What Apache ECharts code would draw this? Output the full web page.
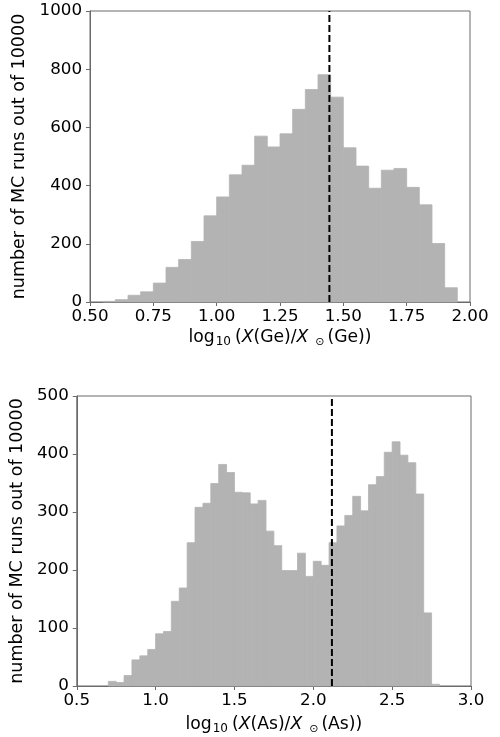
<!DOCTYPE html>
<html>
<head>
<meta charset="utf-8">
<script src="https://cdn.jsdelivr.net/npm/echarts@6/dist/echarts.min.js"></script>
<style>
html,body{margin:0;padding:0;background:#fff;}
#chart{width:500px;height:737px;}
</style>
</head>
<body>
<div id="chart"></div>
<script>
// ---- Data ----
const geBinLeft = [0.55,0.60,0.65,0.70,0.75,0.80,0.85,0.90,0.95,1.00,1.05,1.10,1.15,1.20,1.25,1.30,1.35,1.40,1.45,1.50,1.55,1.60,1.65,1.70,1.75,1.80,1.85,1.90];
const geCounts  = [2,8,23,35,65,119,146,208,296,361,437,470,570,533,578,662,730,781,704,530,467,391,453,459,394,334,201,49];
const geBinWidth = 0.05;
const geMarker = 1.445;
const geXTicks = [0.50,0.75,1.00,1.25,1.50,1.75,2.00];
const geYTicks = [0,200,400,600,800,1000];

const asBinLeft = [0.70,0.75,0.80,0.85,0.90,0.95,1.00,1.05,1.10,1.15,1.20,1.25,1.30,1.35,1.40,1.45,1.50,1.55,1.60,1.65,1.70,1.75,1.80,1.85,1.90,1.95,2.00,2.05,2.10,2.15,2.20,2.25,2.30,2.35,2.40,2.45,2.50,2.55,2.60,2.65,2.70,2.75];
const asCounts  = [8,6,18,45,52,63,90,94,146,169,247,308,315,349,382,368,334,333,314,320,267,242,199,199,229,189,215,208,247,276,294,327,302,347,361,403,421,398,385,331,126,3];
const asBinWidth = 0.05;
const asMarker = 2.118;
const asXTicks = [0.5,1.0,1.5,2.0,2.5,3.0];
const asYTicks = [0,100,200,300,400,500];

const yLabel = 'number of MC runs out of 10000';

// ---- Chart ----
const FONT = 'DejaVu Sans';
const FS = 16.7;
const SPINE = '#6a6a6a';
const BAR = '#b3b3b3';

function histData(lefts, counts, w){
  return lefts.map((l,i)=>[l, counts[i], l + w]);
}
function renderHist(params, api){
  const p0 = api.coord([api.value(0), api.value(1)]);
  const p1 = api.coord([api.value(2), 0]);
  return {
    type:'rect',
    shape:{x:p0[0], y:p0[1], width:p1[0]-p0[0], height:p1[1]-p0[1]},
    style:{fill:BAR, stroke:BAR, lineWidth:0.8}
  };
}
function xName(el){
  return '{n|log}{s|10}{n|(}{i|X}{n|(' + el + ')/}{i|X}{o|⊙}{n|(' + el + '))}';
}
const nameRich = {
  n:{fontFamily:FONT,fontSize:17.2,color:'#000'},
  i:{fontFamily:FONT,fontSize:17.2,fontStyle:'italic',color:'#000'},
  s:{fontFamily:FONT,fontSize:12,color:'#000',verticalAlign:'bottom',padding:[8,4,0,1]},
  o:{fontFamily:FONT,fontSize:11,color:'#000',verticalAlign:'bottom',padding:[8,3,0,7]}
};

function xAxis(idx, ticks, dec, el, gap){
  return {
    type:'value', gridIndex:idx,
    min:ticks[0], max:ticks[ticks.length-1], interval:ticks[1]-ticks[0],
    name:xName(el), nameLocation:'middle', nameGap:gap,
    nameTextStyle:{rich:nameRich, fontFamily:FONT, fontSize:FS, color:'#000'},
    axisLine:{show:true, onZero:false, lineStyle:{color:SPINE,width:1}},
    axisTick:{show:true, inside:false, length:4, lineStyle:{color:SPINE}},
    axisLabel:{fontFamily:FONT, fontSize:FS, color:'#000', margin:6,
      formatter:v=>v.toFixed(dec)},
    splitLine:{show:false}
  };
}
function yAxis(idx, ticks, gap){
  return {
    type:'value', gridIndex:idx,
    min:ticks[0], max:ticks[ticks.length-1], interval:ticks[1]-ticks[0],
    name:yLabel, nameLocation:'middle', nameGap:gap, nameRotate:90,
    nameTextStyle:{fontFamily:FONT, fontSize:17.5, color:'#000'},
    axisLine:{show:true, lineStyle:{color:SPINE,width:1}},
    axisTick:{show:true, inside:false, length:4, lineStyle:{color:SPINE}},
    axisLabel:{fontFamily:FONT, fontSize:FS, color:'#000', margin:8,
      formatter:v=>String(v)},
    splitLine:{show:false}
  };
}

const chart = echarts.init(document.getElementById('chart'), null, {renderer:'canvas'});
chart.setOption({
  animation:false,
  backgroundColor:'#fff',
  grid:[
    {left:90, top:11, width:380, height:291, show:true, borderColor:SPINE, borderWidth:1, backgroundColor:'transparent'},
    {left:75, top:396, width:396, height:290, show:true, borderColor:SPINE, borderWidth:1, backgroundColor:'transparent'}
  ],
  xAxis:[ xAxis(0, geXTicks, 2, 'Ge', 26), xAxis(1, asXTicks, 1, 'As', 29) ],
  yAxis:[ yAxis(0, geYTicks, 42), yAxis(1, asYTicks, 32) ],
  series:[
    {type:'custom', xAxisIndex:0, yAxisIndex:0, renderItem:renderHist,
     data:histData(geBinLeft, geCounts, geBinWidth), encode:{x:[0,2], y:1}},
    {type:'line', xAxisIndex:0, yAxisIndex:0, symbol:'none', z:5,
     data:[[geMarker, geYTicks[0]],[geMarker, geYTicks[geYTicks.length-1]]],
     lineStyle:{color:'#000', width:2, type:[7,3]}},
    {type:'custom', xAxisIndex:1, yAxisIndex:1, renderItem:renderHist,
     data:histData(asBinLeft, asCounts, asBinWidth), encode:{x:[0,2], y:1}},
    {type:'line', xAxisIndex:1, yAxisIndex:1, symbol:'none', z:5,
     data:[[asMarker, asYTicks[0]],[asMarker, asYTicks[asYTicks.length-1]]],
     lineStyle:{color:'#000', width:2, type:[7,3]}}
  ]
});
</script>
</body>
</html>
